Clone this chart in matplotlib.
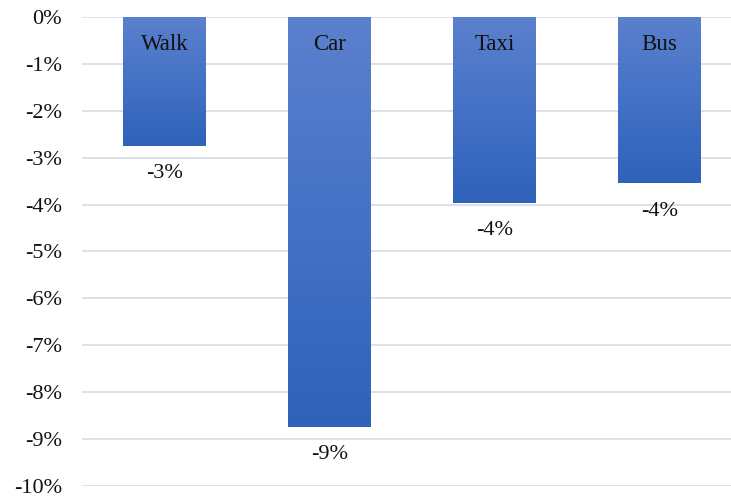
import numpy as np
import matplotlib.pyplot as plt
import matplotlib.transforms as mtransforms
from matplotlib.colors import LinearSegmentedColormap
from matplotlib.ticker import FuncFormatter

categories = ["Walk", "Car", "Taxi", "Bus"]
changes = [-2.75, -8.74, -3.96, -3.54]   # percent change
value_labels = ["-3%", "-9%", "-4%", "-4%"]
y_ticks = list(range(0, -11, -1))

plt.rcParams['font.family'] = ['Liberation Serif', 'DejaVu Serif']

W, H = 731, 498
fig = plt.figure(figsize=(W / 100, H / 100), dpi=100)
left_px, right_px, top_px, bottom_px = 82, 742, 17, 486
ax = fig.add_axes([left_px / W, 1 - bottom_px / H,
                   (right_px - left_px) / W, (bottom_px - top_px) / H])

ax.set_xlim(-0.5, len(categories) - 0.5)
ax.set_ylim(-10, 0)
ax.set_yticks(y_ticks)
ax.yaxis.set_major_formatter(FuncFormatter(lambda v, p: f"{int(round(v))}%"))
ax.tick_params(axis='y', length=0, pad=14.4, labelsize=16, labelcolor='#111111')
ax.set_xticks([])
for s in ax.spines.values():
    s.set_visible(False)
ax.grid(axis='y', color='#d9dde6', linewidth=1.3)
ax.set_axisbelow(True)

cmap = LinearSegmentedColormap.from_list('barfill', ['#2f62b9', '#4472c6', '#5b80cd'])
grad = np.linspace(0, 1, 256).reshape(-1, 1)

# labels sit a fixed pixel distance below the bar top / bar end
shift = mtransforms.ScaledTranslation(0, -28 / 100, fig.dpi_scale_trans)

bw = 0.503
bars = ax.bar(range(len(categories)), changes, width=bw, color='none', edgecolor='none')
for i, (b, v) in enumerate(zip(bars, changes)):
    x0 = b.get_x()
    img = ax.imshow(grad, cmap=cmap, aspect='auto', origin='lower',
                    extent=(x0, x0 + bw, v, 0), zorder=2)
    img.set_clip_path(b)
    ax.text(i, 0, categories[i], ha='center', va='center', fontsize=16.5,
            color='#111111', zorder=3, transform=ax.transData + shift)
    ax.text(i, v, value_labels[i], ha='center', va='center', fontsize=16,
            color='#111111', zorder=3, transform=ax.transData + shift)

ax.set_xlim(-0.5, len(categories) - 0.5)
ax.set_ylim(-10, 0)

fig.savefig('out.png', dpi=100)
